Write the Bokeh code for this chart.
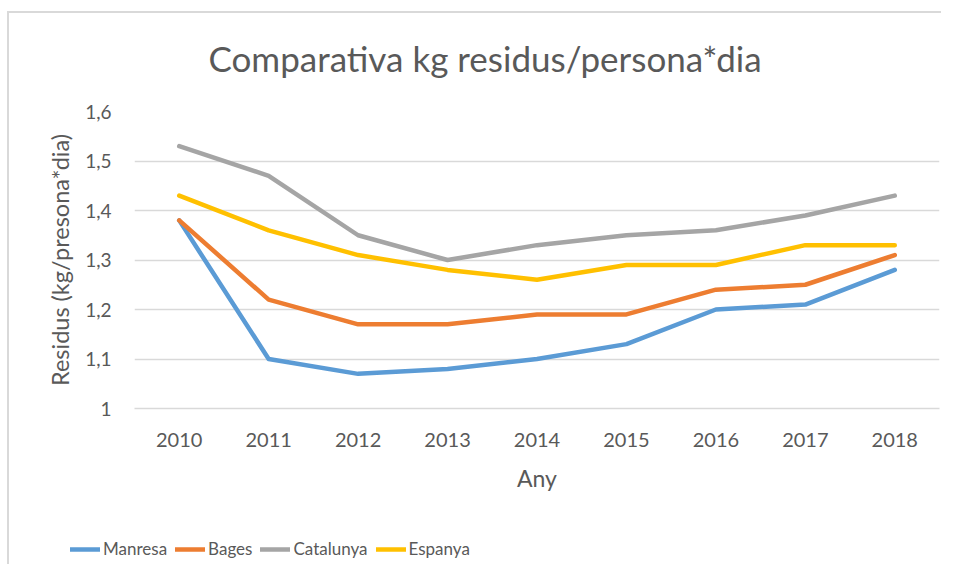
from bokeh.plotting import figure
from bokeh.layouts import column
from bokeh.models import FixedTicker, CustomJSTickFormatter, Legend, LegendItem, Range1d
from bokeh.embed import file_html
from bokeh.resources import INLINE

years = [2010, 2011, 2012, 2013, 2014, 2015, 2016, 2017, 2018]
manresa = [1.38, 1.10, 1.07, 1.08, 1.10, 1.13, 1.20, 1.21, 1.28]
bages = [1.38, 1.22, 1.17, 1.17, 1.19, 1.19, 1.24, 1.25, 1.31]
catalunya = [1.53, 1.47, 1.35, 1.30, 1.33, 1.35, 1.36, 1.39, 1.43]
espanya = [1.43, 1.36, 1.31, 1.28, 1.26, 1.29, 1.29, 1.33, 1.33]
series_names = ["Manresa", "Bages", "Catalunya", "Espanya"]
y_ticks = [1.0, 1.1, 1.2, 1.3, 1.4, 1.5, 1.6]

colors = ["#5B9BD5", "#ED7D31", "#A5A5A5", "#FFC000"]
FONT = "Lato"
TXT = "#595959"
GRID = "#d9d9d9"
all_series = [manresa, bages, catalunya, espanya]

p = figure(width=941, height=500, output_backend="svg", toolbar_location=None,
           x_range=Range1d(years[0] - 0.5, years[-1] + 0.5),
           y_range=Range1d(1.0, 1.6),
           min_border_left=134, min_border_right=2, min_border_top=111, min_border_bottom=92)
p.frame_align = False
p.border_fill_color = None
p.outline_line_color = None

p.title.text = "Comparativa kg residus/persona*dia"
p.title.text_font = FONT
p.title.text_font_size = "35px"
p.title.text_font_style = "normal"
p.title.text_color = TXT
p.title.align = "left"
p.title.offset = 74
p.title.standoff = 66

for name, vals, c in zip(series_names, all_series, colors):
    p.line(years, vals, line_color=c, line_width=4.5, line_cap="round", line_join="round")

p.xaxis.ticker = FixedTicker(ticks=years)
p.yaxis.ticker = FixedTicker(ticks=y_ticks)
p.yaxis.formatter = CustomJSTickFormatter(code="""
if (Math.abs(tick - Math.round(tick)) < 1e-9) return String(Math.round(tick));
return tick.toFixed(1).replace('.', ',');
""")

p.xgrid.grid_line_color = None
p.ygrid.grid_line_color = GRID
p.ygrid.grid_line_width = 1.3

for ax in (p.xaxis[0], p.yaxis[0]):
    ax.major_tick_line_color = None
    ax.minor_tick_line_color = None
    ax.major_label_text_font = FONT
    ax.major_label_text_color = TXT
    ax.axis_label_text_font = FONT
    ax.axis_label_text_color = TXT
    ax.axis_label_text_font_style = "normal"

p.yaxis.axis_line_color = None
p.xaxis.axis_line_color = GRID
p.xaxis.axis_line_width = 1.3
p.xaxis.major_label_text_font_size = "20px"
p.yaxis.major_label_text_font_size = "19px"
p.xaxis.major_label_standoff = 18
p.yaxis.major_label_standoff = 17
p.xaxis.axis_label = "Any"
p.xaxis.axis_label_text_font_size = "23px"
p.xaxis.axis_label_standoff = 14
p.yaxis.axis_label = "Residus (kg/presona*dia)"
p.yaxis.axis_label_text_font_size = "23.5px"
p.yaxis.axis_label_standoff = 8

# legend strip below the chart (series lines fall outside this strip's ranges)
lg = figure(width=941, height=64, output_backend="svg", toolbar_location=None,
            x_axis_type=None, y_axis_type=None,
            x_range=Range1d(0, 1), y_range=Range1d(0, 1),
            min_border=0, min_border_left=0, min_border_right=0,
            min_border_top=0, min_border_bottom=0)
lg.frame_align = False
lg.border_fill_color = None
lg.background_fill_color = None
lg.outline_line_color = None
lg.xgrid.visible = False
lg.ygrid.visible = False
items = []
for name, vals, c in zip(series_names, all_series, colors):
    r = lg.line(years, vals, line_color=c, line_width=4.5, line_cap="round")
    items.append(LegendItem(label=name, renderers=[r]))
legend = Legend(items=items, orientation="horizontal", location=(70, 5),
                label_text_font=FONT, label_text_font_size="17px", label_text_color=TXT,
                glyph_width=30, glyph_height=20, label_height=20, spacing=8, label_standoff=3,
                padding=0, margin=0,
                border_line_color=None, background_fill_alpha=0)
lg.add_layout(legend, "center")

layout = column(p, lg, spacing=0)
layout.styles = {
    "background": "linear-gradient(#d9d9d9,#d9d9d9) 7px 11px / 2px 100% no-repeat, "
                  "linear-gradient(#d9d9d9,#d9d9d9) 7px 11px / 100% 2px no-repeat, #ffffff"
}

open("out.html", "w").write(file_html(layout, INLINE))
